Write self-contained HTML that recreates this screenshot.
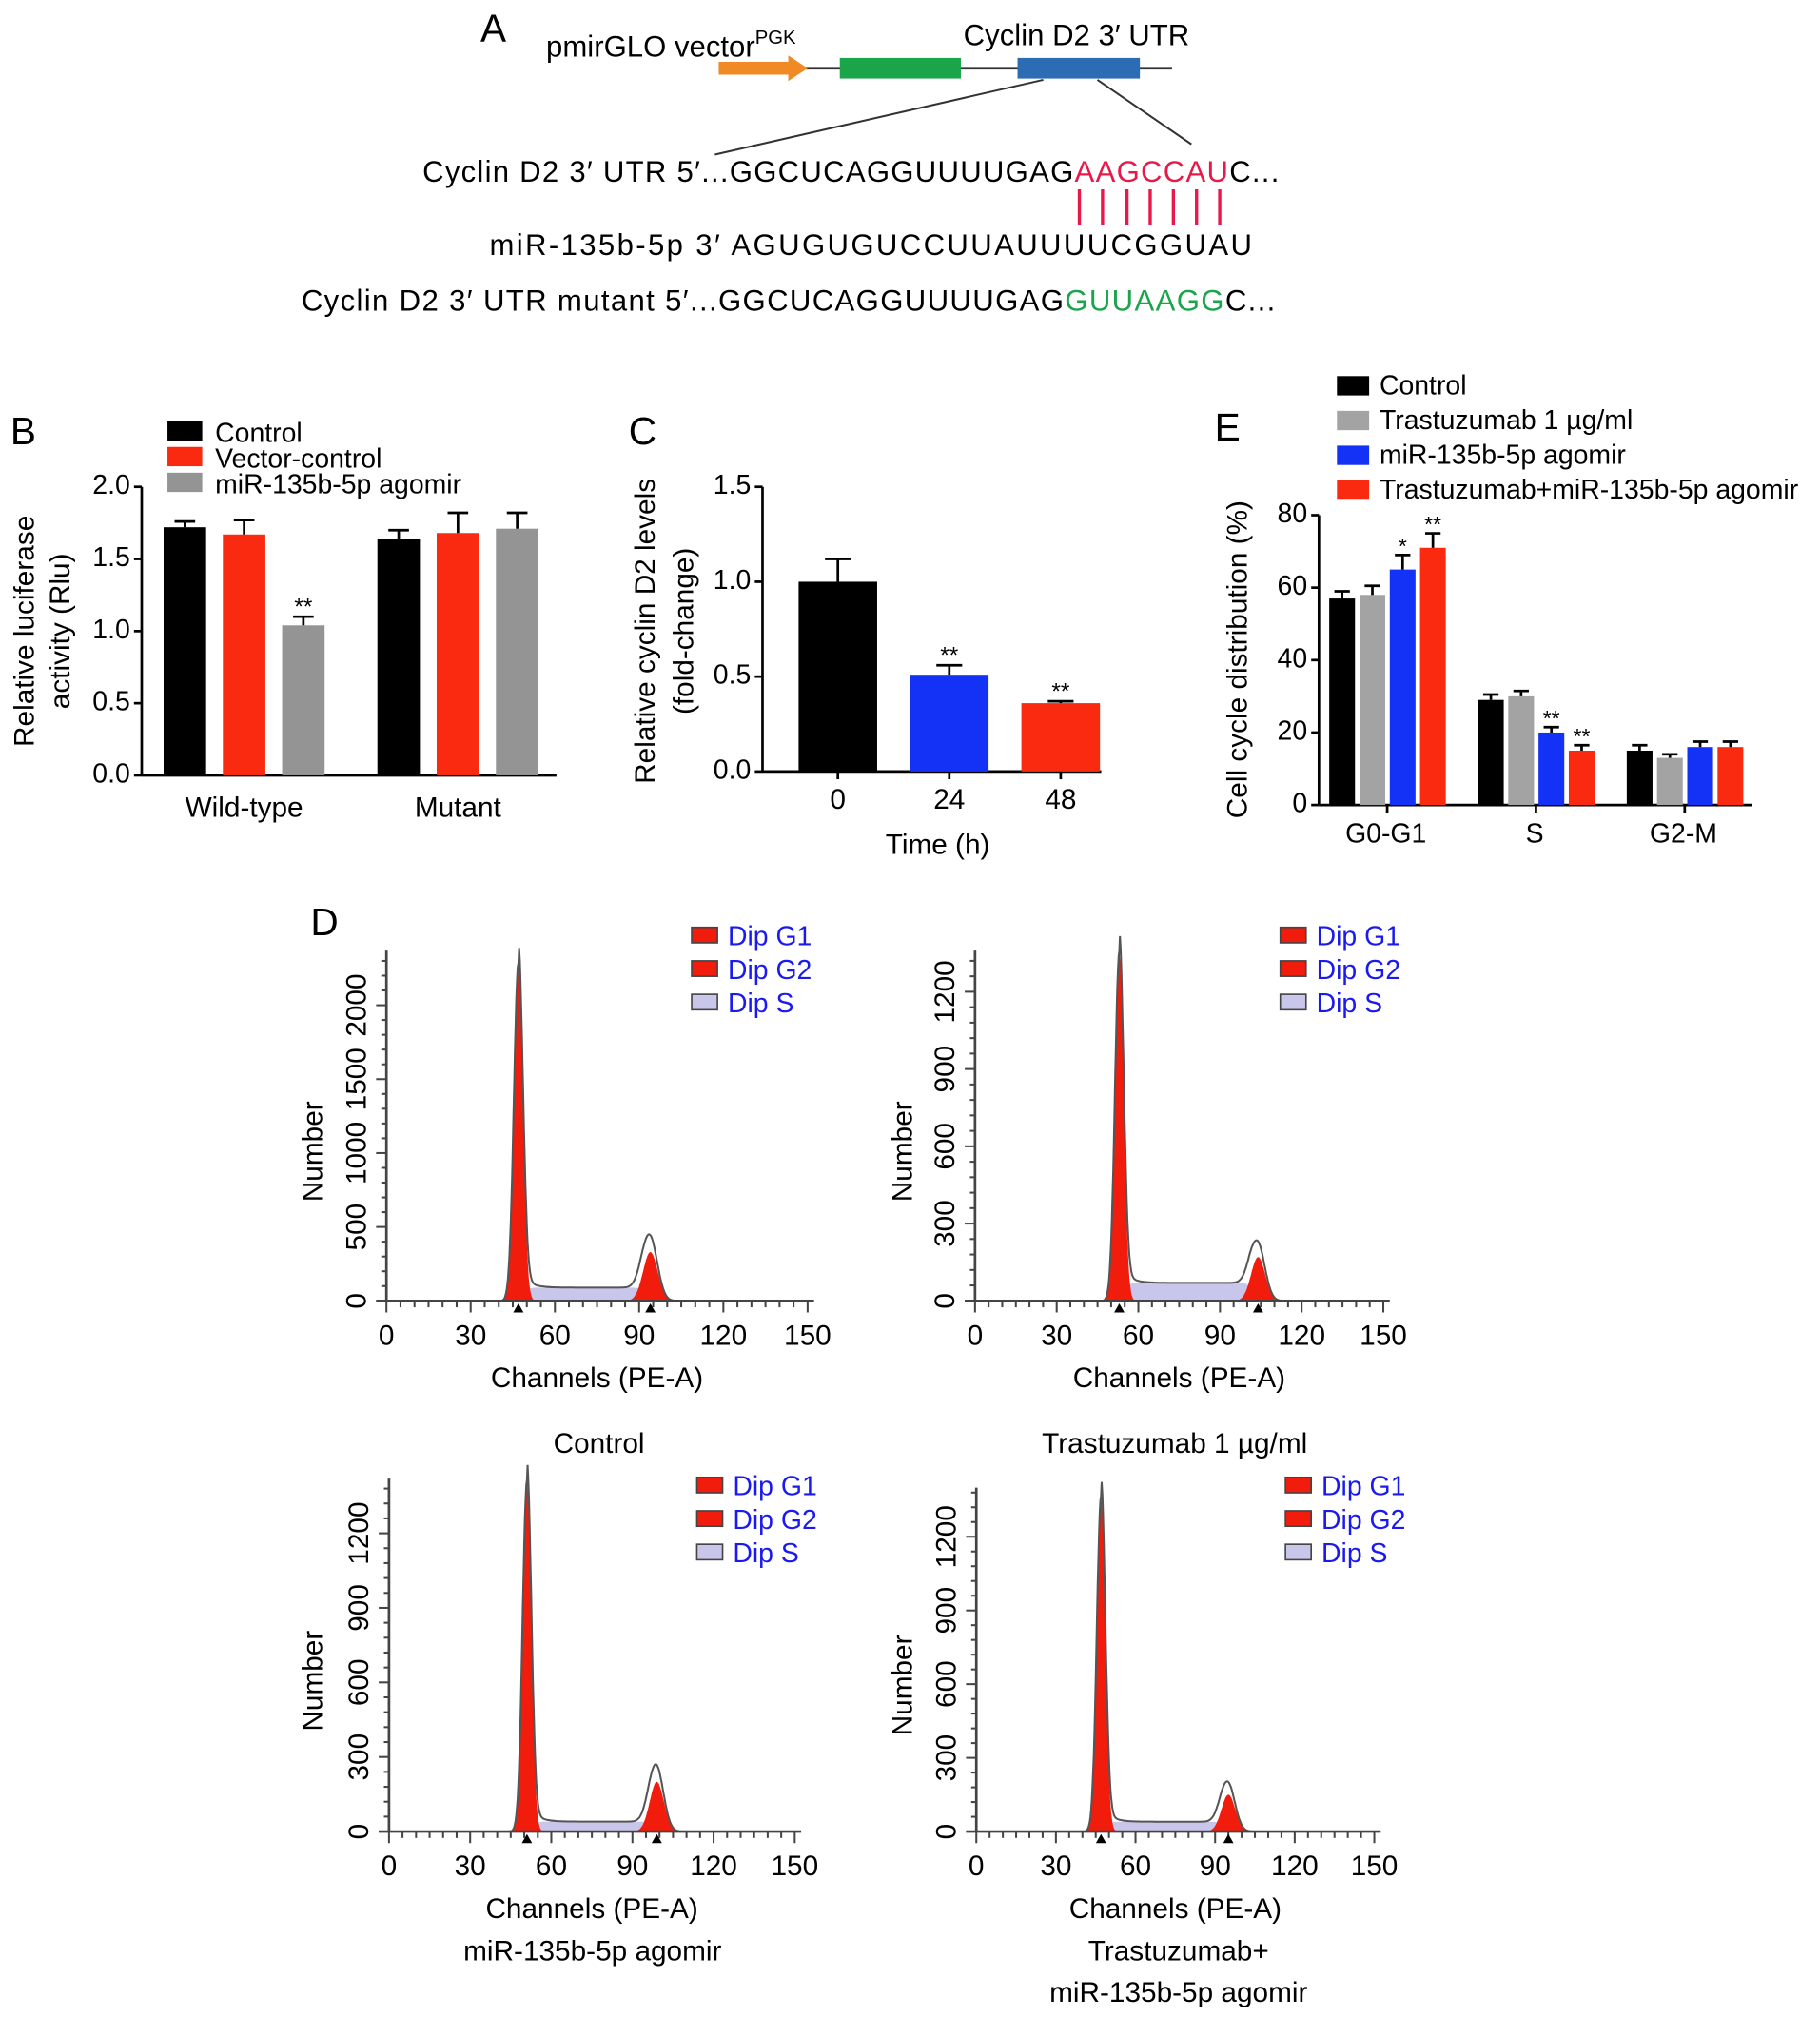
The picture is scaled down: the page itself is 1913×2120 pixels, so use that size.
<!DOCTYPE html>
<html><head><meta charset="utf-8">
<style>
html,body{margin:0;padding:0;background:#fff;}
svg{display:block;font-family:"Liberation Sans",Arial,sans-serif;}
</style></head>
<body>
<svg id="fig" width="1913" height="2120" viewBox="0 0 1413 1566" xmlns="http://www.w3.org/2000/svg">
<!-- Panel A -->
<g>
<text x="373" y="32" font-size="30">A</text>
<text x="424" y="44" font-size="23">pmirGLO vector<tspan font-size="15" dy="-10">PGK</tspan></text>
<line x1="625" y1="53" x2="910" y2="53" stroke="#333" stroke-width="2"/>
<path d="M558 48 L612 48 L612 43 L627 53 L612 63 L612 58 L558 58 Z" fill="#f08a24"/>
<rect x="652" y="45" width="94" height="16" fill="#1aa54a"/>
<rect x="790" y="45" width="95" height="16" fill="#2b6cb5"/>
<text x="748" y="35" font-size="23">Cyclin D2 3′ UTR</text>
<line x1="810" y1="62" x2="555" y2="120" stroke="#333" stroke-width="1.5"/>
<line x1="852" y1="62" x2="925" y2="112" stroke="#333" stroke-width="1.5"/>
<text x="328" y="141" font-size="23" textLength="665" lengthAdjust="spacing">Cyclin D2 3′ UTR 5′...GGCUCAGGUUUUGAG<tspan fill="#e8194a">AAGCCAU</tspan>C...</text>
<g stroke="#e8194a" stroke-width="2.5">
<line x1="838" y1="147" x2="838" y2="175"/><line x1="856" y1="147" x2="856" y2="175"/><line x1="875" y1="147" x2="875" y2="175"/><line x1="893" y1="147" x2="893" y2="175"/><line x1="911" y1="147" x2="911" y2="175"/><line x1="929" y1="147" x2="929" y2="175"/><line x1="947" y1="147" x2="947" y2="175"/>
</g>
<text x="380" y="198" font-size="23" textLength="592" lengthAdjust="spacing">miR-135b-5p 3′  AGUGUGUCCUUAUUUUCGGUAU</text>
<text x="234" y="241" font-size="23" textLength="756" lengthAdjust="spacing">Cyclin D2 3′ UTR mutant 5′...GGCUCAGGUUUUGAG<tspan fill="#1aa54a">GUUAAGG</tspan>C...</text>
</g>
<g id="charts"></g>
</svg>
<script>
const NS="http://www.w3.org/2000/svg";
const root=document.getElementById('charts');
function el(tag,attrs,parent,text){const e=document.createElementNS(NS,tag);for(const k in attrs)e.setAttribute(k,attrs[k]);if(text!==undefined)e.textContent=text;(parent||root).appendChild(e);return e;}

// ---------- Panel B data ----------
const bGroups=["Wild-type","Mutant"];
const bSeries=["Control","Vector-control","miR-135b-5p agomir"];
const bControl=[1.72,1.64];
const bVector=[1.67,1.68];
const bAgomir=[1.04,1.71];
const bErrControl=[0.04,0.06];
const bErrVector=[0.10,0.14];
const bErrAgomir=[0.06,0.11];
const bTicks=[0,0.5,1.0,1.5,2.0];
// ---------- Panel C data ----------
const cCats=["0","24","48"];
const cValues=[1.0,0.51,0.36];
const cErr=[0.12,0.05,0.01];
const cTicks=[0,0.5,1.0,1.5];
// ---------- Panel E data ----------
const eCats=["G0-G1","S","G2-M"];
const eSeries=["Control","Trastuzumab 1 µg/ml","miR-135b-5p agomir","Trastuzumab+miR-135b-5p agomir"];
const eControl=[57,29,15];
const eTrast=[58,30,13];
const eAgomir=[65,20,16];
const eCombo=[71,15,16];
const eErrControl=[2,1.5,1.5];
const eErrTrast=[2.5,1.5,1];
const eErrAgomir=[4,1.5,1.5];
const eErrCombo=[4,1.5,1.5];
const eTicks=[0,20,40,60,80];
// ---------- Panel D data (flow histograms) ----------
const dG1Pos=[47,53,51,47];
const dG2Pos=[94,104,99,95];
const dG1Height=[2280,1350,1410,1360];
const dG2Height=[330,170,200,150];
const dSLevel=[90,70,40,40];
const dYMax=[2370,1360,1420,1400];
const dYTicks0=[0,500,1000,1500,2000];
const dYTicks1=[0,300,600,900,1200];
const dXTicks=[0,30,60,90,120,150];

// ---------- Panel B ----------
(function(){
 const g=el('g',{});
 el('text',{x:8,y:345,'font-size':30},g,'B');
 const x0=110,y0=602,yTop=378,xEnd=432;
 const ys=v=>y0-(v/2.0)*(y0-yTop);
 el('line',{x1:x0,y1:yTop,x2:x0,y2:y0,stroke:'#000','stroke-width':2},g);
 el('line',{x1:x0,y1:y0,x2:xEnd,y2:y0,stroke:'#000','stroke-width':2},g);
 bTicks.forEach(t=>{const y=ys(t);el('line',{x1:x0-6,y1:y,x2:x0,y2:y,stroke:'#000','stroke-width':2},g);
  const tx=el('text',{x:x0-9,y:y,'font-size':21,'text-anchor':'end','dominant-baseline':'middle'},g,t.toFixed(1));});
 const series=[bControl,bVector,bAgomir],errs=[bErrControl,bErrVector,bErrAgomir],cols=['#000','#fa2a10','#949494'];
 const gStart=[127,293],bw=33,step=46;
 bGroups.forEach((name,gi)=>{
  series.forEach((s,si)=>{const x=gStart[gi]+si*step,y=ys(s[gi]);
   const r=el('rect',{x:x,y:y,width:bw,height:y0-y,fill:cols[si]},g);
   
   const ye=ys(s[gi]+errs[si][gi]);
   el('line',{x1:x+bw/2,y1:y,x2:x+bw/2,y2:ye,stroke:'#000','stroke-width':2},g);
   el('line',{x1:x+bw/2-8,y1:ye,x2:x+bw/2+8,y2:ye,stroke:'#000','stroke-width':2},g);
  });
  const lbl=el('text',{x:gStart[gi]+step+bw/2,y:634,'font-size':22,'text-anchor':'middle'},g,name);
  
 });
 el('text',{x:gStart[0]+2*step+bw/2,y:ys(bAgomir[0]+bErrAgomir[0])-2,'font-size':18,'text-anchor':'middle'},g,'**');
 bSeries.forEach((n,i)=>{el('rect',{x:130,y:327+i*20,width:27,height:15,fill:cols[i]},g);
  const t=el('text',{x:167,y:343+i*20,'font-size':21},g,n);});
 el('text',{transform:'translate(26,490) rotate(-90)','font-size':22,'text-anchor':'middle'},g,'Relative luciferase');
 el('text',{transform:'translate(54,490) rotate(-90)','font-size':22,'text-anchor':'middle'},g,'activity (Rlu)');
})();

// ---------- Panel C ----------
(function(){
 const g=el('g',{});
 el('text',{x:488,y:345,'font-size':30},g,'C');
 const x0=592,y0=599,yTop=378,xEnd=855;
 const ys=v=>y0-(v/1.5)*(y0-yTop);
 el('line',{x1:x0,y1:yTop,x2:x0,y2:y0,stroke:'#000','stroke-width':2},g);
 el('line',{x1:x0,y1:y0,x2:xEnd,y2:y0,stroke:'#000','stroke-width':2},g);
 cTicks.forEach(t=>{const y=ys(t);el('line',{x1:x0-6,y1:y,x2:x0,y2:y,stroke:'#000','stroke-width':2},g);
  el('text',{x:x0-9,y:y,'font-size':21,'text-anchor':'end','dominant-baseline':'middle'},g,t.toFixed(1));});
 const cols=['#000','#1432f5','#fa2a10'];
 cCats.forEach((c,i)=>{const x=620+i*86.5,bw=61,y=ys(cValues[i]);
  const r=el('rect',{x:x,y:y,width:bw,height:y0-y,fill:cols[i]},g);
  
  const ye=ys(cValues[i]+cErr[i]);
  el('line',{x1:x+bw/2,y1:y,x2:x+bw/2,y2:ye,stroke:'#000','stroke-width':2},g);
  el('line',{x1:x+bw/2-10,y1:ye,x2:x+bw/2+10,y2:ye,stroke:'#000','stroke-width':2},g);
  el('line',{x1:x+bw/2,y1:y0,x2:x+bw/2,y2:y0+6,stroke:'#000','stroke-width':2},g);
  el('text',{x:x+bw/2,y:628,'font-size':22,'text-anchor':'middle'},g,c);
  if(i>0)el('text',{x:x+bw/2,y:ye-2,'font-size':18,'text-anchor':'middle'},g,'**');
 });
 el('text',{x:728,y:663,'font-size':22,'text-anchor':'middle'},g,'Time (h)');
 el('text',{transform:'translate(508,490) rotate(-90)','font-size':22,'text-anchor':'middle'},g,'Relative cyclin D2 levels');
 el('text',{transform:'translate(538,490) rotate(-90)','font-size':22,'text-anchor':'middle'},g,'(fold-change)');
})();

// ---------- Panel E ----------
(function(){
 const g=el('g',{});
 el('text',{x:943,y:342,'font-size':30},g,'E');
 const x0=1024,y0=625,yTop=400,xEnd=1360;
 const ys=v=>y0-(v/80)*(y0-yTop);
 el('line',{x1:x0,y1:yTop,x2:x0,y2:y0,stroke:'#000','stroke-width':2},g);
 el('line',{x1:x0,y1:y0,x2:xEnd,y2:y0,stroke:'#000','stroke-width':2},g);
 eTicks.forEach(t=>{const y=ys(t);el('line',{x1:x0-6,y1:y,x2:x0,y2:y,stroke:'#000','stroke-width':2},g);
  el('text',{x:x0-9,y:y,'font-size':21,'text-anchor':'end','dominant-baseline':'middle'},g,String(t));});
 const series=[eControl,eTrast,eAgomir,eCombo],errs=[eErrControl,eErrTrast,eErrAgomir,eErrCombo];
 const cols=['#000','#a3a3a3','#1432f5','#fa2a10'];
 const stars=[['','','*','**'],['','','**','**'],['','','','']];
 eCats.forEach((c,ci)=>{const gx=1032+ci*115.5;
  series.forEach((s,si)=>{const x=gx+si*23.5,bw=20,y=ys(s[ci]);
   const r=el('rect',{x:x,y:y,width:bw,height:y0-y,fill:cols[si]},g);
   
   const ye=ys(s[ci]+errs[si][ci]);
   el('line',{x1:x+bw/2,y1:y,x2:x+bw/2,y2:ye,stroke:'#000','stroke-width':2},g);
   el('line',{x1:x+bw/2-6,y1:ye,x2:x+bw/2+6,y2:ye,stroke:'#000','stroke-width':2},g);
   if(stars[ci][si])el('text',{x:x+bw/2,y:ye-1,'font-size':17,'text-anchor':'middle'},g,stars[ci][si]);
  });
  el('line',{x1:gx+45,y1:y0,x2:gx+45,y2:y0+6,stroke:'#000','stroke-width':2},g);
  el('text',{x:gx+44,y:654,'font-size':21,'text-anchor':'middle'},g,c);
 });
 eSeries.forEach((n,i)=>{el('rect',{x:1038,y:292+i*27,width:25,height:15,fill:cols[i]},g);
  const t=el('text',{x:1071,y:306+i*27,'font-size':21},g,n);});
 el('text',{transform:'translate(968,512) rotate(-90)','font-size':22,'text-anchor':'middle'},g,'Cell cycle distribution (%)');
})();

// ---------- Panel D ----------
el('text',{x:241,y:726,'font-size':30},root,'D');
const dPanels=[{x0:300,x150:627,y0:1010,yTop:738,ticks:dYTicks0,leg:[537,720],nx:250},
 {x0:757,x150:1074,y0:1010,yTop:738,ticks:dYTicks1,leg:[994,720],nx:708},
 {x0:302,x150:617,y0:1422,yTop:1148,ticks:dYTicks1,leg:[541,1147],nx:250},
 {x0:758,x150:1067,y0:1422,yTop:1155,ticks:dYTicks1,leg:[998,1147],nx:708}];
dPanels.forEach((p,i)=>{
 const g=el('g',{});
 const xs=c=>p.x0+(c/150)*(p.x150-p.x0);
 const ys=v=>p.y0-(v/dYMax[i])*(p.y0-p.yTop);
 const m1=dG1Pos[i],m2=dG2Pos[i],s1=1.6,s2=2.6;
 const g1=c=>dG1Height[i]*Math.exp(-0.5*((c-m1)/s1)**2);
 const g2=c=>dG2Height[i]*Math.exp(-0.5*((c-m2)/s2)**2);
 const sig=z=>1/(1+Math.exp(-z));
 const sf=c=>dSLevel[i]*sig((c-m1-2)*1.2)*sig((m2-2-c)*1.2);
 const tail=c=>dG1Height[i]*0.06*Math.exp(-Math.max(0,c-m1)/3)*(c>m1?1:0);
 let sp='',r1='',r2='',tot='';
 for(let c=m1-10;c<=m2+12;c+=0.25){const x=xs(c);
  sp+=(sp?'L':'M')+x.toFixed(1)+' '+ys(sf(c)).toFixed(1);
 }
 sp+=`L${xs(m2+12)} ${p.y0}L${xs(m1-10)} ${p.y0}Z`;
 for(let c=m1-6;c<=m1+6;c+=0.2)r1+=(r1?'L':'M')+xs(c).toFixed(1)+' '+ys(g1(c)).toFixed(1);
 r1+='Z';
 for(let c=m2-9;c<=m2+9;c+=0.2)r2+=(r2?'L':'M')+xs(c).toFixed(1)+' '+ys(g2(c)).toFixed(1);
 r2+='Z';
 for(let c=m1-12;c<=m2+15;c+=0.25){const v=g1(c)+g2(c)+sf(c)+tail(c)+dG2Height[i]*0.35*Math.exp(-0.5*((c-m2+1)/2.6)**2);
  tot+=(tot?'L':'M')+xs(c).toFixed(1)+' '+ys(v).toFixed(1);}
 const sEl=el('path',{d:sp,fill:'#c9c6ec'},g);
 const a=el('path',{d:r1,fill:'#f21c0c'},g);
 const b=el('path',{d:r2,fill:'#f21c0c'},g);
 const t=el('path',{d:tot,fill:'none',stroke:'#555','stroke-width':1.5},g);
 el('line',{x1:p.x0,y1:p.yTop,x2:p.x0,y2:p.y0,stroke:'#444','stroke-width':2},g);
 el('line',{x1:p.x0-8,y1:p.y0,x2:p.x150+5,y2:p.y0,stroke:'#444','stroke-width':2},g);
 for(let c=0;c<=150;c+=5){const big=c%30===0;el('line',{x1:xs(c),y1:p.y0,x2:xs(c),y2:p.y0+(big?9:5),stroke:'#444','stroke-width':1.5},g);}
 dXTicks.forEach(c=>el('text',{x:xs(c),y:p.y0+34,'font-size':22,'text-anchor':'middle'},g,String(c)));
 const tk=p.ticks,stepv=tk[1]/5;
 for(let v=0;ys(v)>=p.yTop;v+=stepv){const big=Math.abs(v%tk[1])<1e-6;el('line',{x1:p.x0-(big?8:4),y1:ys(v),x2:p.x0,y2:ys(v),stroke:'#444','stroke-width':1.5},g);}
 tk.forEach(v=>el('text',{transform:`translate(${p.x0-16},${ys(v)}) rotate(-90)`,'font-size':22,'text-anchor':'middle'},g,String(v)));
 [m1,m2].forEach(m=>el('path',{d:`M${xs(m)-4} ${p.y0+9}L${xs(m)+4} ${p.y0+9}L${xs(m)} ${p.y0+2}Z`,fill:'#000'},g));
 el('text',{transform:`translate(${p.nx},${(p.y0+p.yTop)/2+20}) rotate(-90)`,'font-size':22,'text-anchor':'middle'},g,'Number');
 el('text',{x:(p.x0+p.x150)/2,y:p.y0+67,'font-size':22,'text-anchor':'middle'},g,'Channels (PE-A)');
 ['Dip G1','Dip G2','Dip S'].forEach((n,k)=>{
  el('rect',{x:p.leg[0],y:p.leg[1]+k*26,width:20,height:12,fill:k<2?'#f21c0c':'#c9c6ec',stroke:'#444','stroke-width':1.2},g);
  const lt=el('text',{x:p.leg[0]+28,y:p.leg[1]+14+k*26,'font-size':21,fill:'#1a1af0'},g,n);
  
 });
});
el('text',{x:465,y:1128,'font-size':22,'text-anchor':'middle'},root,'Control');
el('text',{x:912,y:1128,'font-size':22,'text-anchor':'middle'},root,'Trastuzumab 1 µg/ml');
el('text',{x:460,y:1522,'font-size':22,'text-anchor':'middle'},root,'miR-135b-5p agomir');
el('text',{x:915,y:1522,'font-size':22,'text-anchor':'middle'},root,'Trastuzumab+');
el('text',{x:915,y:1554,'font-size':22,'text-anchor':'middle'},root,'miR-135b-5p agomir');
</script>
</body></html>
